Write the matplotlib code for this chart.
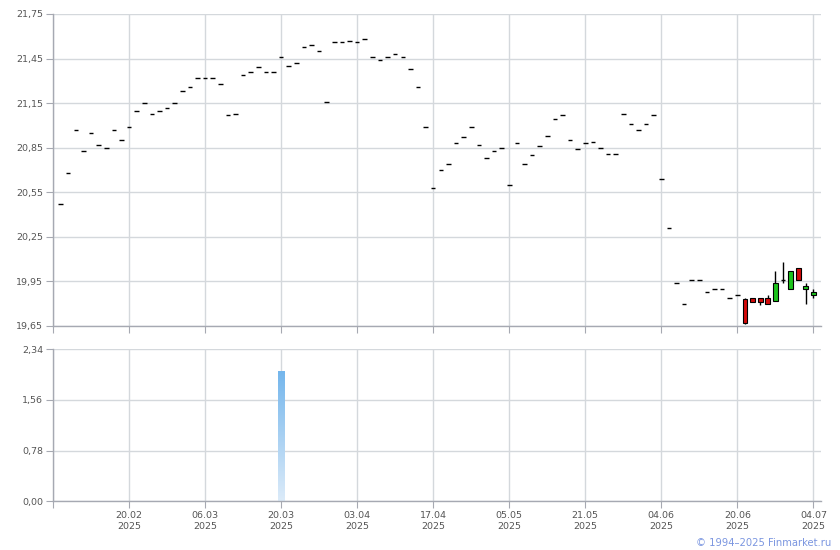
import numpy as np
import matplotlib
matplotlib.use("Agg")
import matplotlib.pyplot as plt
from matplotlib.colors import LinearSegmentedColormap

# ----------------------------------------------------------------------
# Data.  x is the trading-day number (day 0 = 06.02).
# ----------------------------------------------------------------------
# days 1..90: single-price days (open = high = low = close)
FLAT_PRICES = [
    20.47, 20.68, 20.97, 20.83, 20.95, 20.87, 20.85, 20.97, 20.90, 20.99,
    21.10, 21.15, 21.08, 21.10, 21.12, 21.15, 21.23, 21.26, 21.32, 21.32,
    21.32, 21.28, 21.07, 21.08, 21.34, 21.36, 21.39, 21.36, 21.36, 21.46,
    21.40, 21.42, 21.53, 21.54, 21.50, 21.16, 21.56, 21.56, 21.57, 21.56,
    21.58, 21.46, 21.44, 21.46, 21.48, 21.46, 21.38, 21.26, 20.99, 20.58,
    20.70, 20.74, 20.88, 20.92, 20.99, 20.87, 20.78, 20.83, 20.85, 20.60,
    20.88, 20.74, 20.80, 20.86, 20.93, 21.04, 21.07, 20.90, 20.84, 20.88,
    20.89, 20.85, 20.81, 20.81, 21.08, 21.01, 20.97, 21.01, 21.07, 20.64,
    20.31, 19.94, 19.80, 19.96, 19.96, 19.88, 19.90, 19.90, 19.84, 19.86,
]
# days 91..100: full candles
CANDLE_OPEN = [19.83, 19.84, 19.84, 19.84, 19.82, 19.96, 19.90, 20.04, 19.90, 19.86]
CANDLE_HIGH = [19.84, 19.84, 19.84, 19.86, 20.02, 20.08, 20.02, 20.04, 19.94, 19.90]
CANDLE_LOW = [19.66, 19.81, 19.79, 19.80, 19.82, 19.94, 19.90, 19.96, 19.80, 19.84]
CANDLE_CLOSE = [19.67, 19.81, 19.81, 19.80, 19.94, 19.96, 20.02, 19.96, 19.92, 19.88]

VOLUME_DAYS = [30]
VOLUMES = [2.0]

PRICE_TICKS = [19.65, 19.95, 20.25, 20.55, 20.85, 21.15, 21.45, 21.75]
VOLUME_TICKS = [0.0, 0.78, 1.56, 2.34]
DATE_TICKS = [0, 10, 20, 30, 40, 50, 60, 70, 80, 90, 100]
DATE_LABELS = ["", "20.02\n2025", "06.03\n2025", "20.03\n2025", "03.04\n2025",
               "17.04\n2025", "05.05\n2025", "21.05\n2025", "04.06\n2025",
               "20.06\n2025", "04.07\n2025"]

GRID = "#d4d8dc"
SPINE = "#a6a9b2"
LABEL = "#555555"
UP = "#1cc41c"
DOWN = "#d40a0a"

plt.rcParams["font.family"] = "DejaVu Sans"

fig = plt.figure(figsize=(8.4, 5.5), dpi=100)
ax = fig.add_axes([0.0631, 0.4073, 0.9143, 0.5673])
axv = fig.add_axes([0.0631, 0.0885, 0.9143, 0.2764])


def style(a):
    a.set_xlim(0, 101)
    a.set_xticks(DATE_TICKS)
    a.grid(True, color=GRID, lw=1.0)
    a.set_axisbelow(True)
    for s in ("top", "right"):
        a.spines[s].set_visible(False)
    for s in ("left", "bottom"):
        a.spines[s].set_color(SPINE)
        a.spines[s].set_linewidth(1.0)
    a.tick_params(axis="both", length=5, width=0.8, color=SPINE,
                  labelcolor=LABEL, labelsize=6.8, pad=2)


# --- price panel ---
style(ax)
flat_days = np.arange(1, len(FLAT_PRICES) + 1)
ax.hlines(FLAT_PRICES, flat_days - 0.3, flat_days + 0.3, color="black", lw=1.0)

candle_days = np.arange(len(FLAT_PRICES) + 1, len(FLAT_PRICES) + 1 + len(CANDLE_OPEN))
ax.vlines(candle_days, CANDLE_LOW, CANDLE_HIGH, color="black", lw=1.0, zorder=2)
for d, o, c in zip(candle_days, CANDLE_OPEN, CANDLE_CLOSE):
    if abs(c - o) < 1e-6:
        ax.hlines(o, d - 0.3, d + 0.3, color="black", lw=1.0, zorder=3)
        continue
    ax.bar(d, c - o, bottom=o, width=0.62, color=UP if c > o else DOWN,
           edgecolor="black", linewidth=0.8, zorder=3)

ax.set_ylim(PRICE_TICKS[0], PRICE_TICKS[-1])
ax.set_yticks(PRICE_TICKS)
ax.set_yticklabels([f"{v:.2f}".replace(".", ",") for v in PRICE_TICKS])
ax.set_xticklabels([])

# --- volume panel ---
style(axv)
cmap = LinearSegmentedColormap.from_list("vol", ["#dcebf9", "#74b6ec"])
grad = np.linspace(0, 1, 256).reshape(-1, 1)
for d, v in zip(VOLUME_DAYS, VOLUMES):
    axv.imshow(grad, cmap=cmap, origin="lower", aspect="auto",
               extent=(d - 0.4, d + 0.4, 0, v), zorder=2)
axv.set_xlim(0, 101)
axv.set_ylim(VOLUME_TICKS[0], VOLUME_TICKS[-1])
axv.set_yticks(VOLUME_TICKS)
axv.set_yticklabels([f"{v:.2f}".replace(".", ",") for v in VOLUME_TICKS])
axv.set_xticklabels(DATE_LABELS, linespacing=1.25)

fig.text(0.989, 0.0135, "\u00a9 1994\u20132025 Finmarket.ru", color="#7b96e0",
         fontsize=7.2, ha="right", va="center")

fig.savefig("out.png", dpi=100)
